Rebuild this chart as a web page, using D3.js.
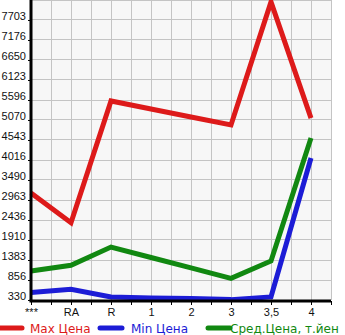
<!DOCTYPE html>
<html><head><meta charset="utf-8">
<script src="https://cdn.jsdelivr.net/npm/d3@7"></script>
<style>body{margin:0;background:#fff}svg{display:block;font-family:"DejaVu Sans",sans-serif}</style>
</head><body><svg id="c" width="345" height="335"></svg>
<script>
const categories = ["***","RA","R","1","2","3","3,5","4"];
const maxPrice = [3150, 2365, 5570, 5360, 5150, 4940, 8180, 5120];
const minPrice = [530, 612, 410, 385, 370, 340, 410, 4070];
const avgPrice = [1095, 1245, 1725, 1450, 1175, 900, 1357, 4596];
const yTicks = [330, 856, 1383, 1910, 2436, 2963, 3490, 4016, 4543, 5070, 5596, 6123, 6650, 7176, 7703];
const seriesNames = ["Max Цена", "Min Цена", "Сред.Цена, т.йен"];
const colors = ["#dd1a1a", "#1c1cd6", "#118811"];

const svg = d3.select("#c");
const L = 31, R = 331, T = 0, B = 300;
const step = yTicks[1] - yTicks[0];
const y = d3.scaleLinear().domain([yTicks[0], yTicks[yTicks.length-1] + step]).range([B, T]);
const x = d3.scaleLinear().domain([0, categories.length - 0.5]).range([L, R]);

svg.append("rect").attr("x", L).attr("y", T).attr("width", R-L).attr("height", B-T).attr("fill", "#f7f7f7");
const vgrid = d3.range(0, categories.length - 0.5 + 0.01, 0.5);
svg.append("g").selectAll("line").data(vgrid).join("line")
  .attr("x1", d => x(d)).attr("x2", d => x(d)).attr("y1", T).attr("y2", B)
  .attr("stroke", "#c4c4c4").attr("stroke-width", 1).attr("shape-rendering","crispEdges");
svg.append("g").selectAll("line").data(yTicks.concat([yTicks[yTicks.length-1]+step])).join("line")
  .attr("x1", L).attr("x2", R).attr("y1", d => y(d)).attr("y2", d => y(d))
  .attr("stroke", "#c4c4c4").attr("stroke-width", 1).attr("shape-rendering","crispEdges");

const series = [maxPrice, minPrice, avgPrice];
const line = d3.line().x((d,i) => x(i)).y(d => y(d));
series.forEach((s, k) => {
  svg.append("path").datum(s).attr("d", line).attr("fill", "none")
    .attr("stroke", colors[k]).attr("stroke-width", 5).attr("stroke-linejoin", "miter").attr("stroke-linecap","butt");
});

const yAxis = d3.axisLeft(y).tickValues(yTicks).tickSize(3).tickPadding(2).tickFormat(d3.format("d"));
const gy = svg.append("g").attr("transform", `translate(${L},0)`).call(yAxis);
gy.select(".domain").attr("stroke", "#000").attr("stroke-width", 3).attr("d", `M0,${T}V${B+1}`);
gy.selectAll("text").attr("font-size", 11).attr("fill", "#111").attr("dy", "-0.05em");

const xAxis = d3.axisBottom(x).tickValues(d3.range(0, categories.length - 0.5 + 0.01, 0.5)).tickSize(4).tickPadding(3)
  .tickFormat(d => Number.isInteger(d) ? categories[d] : "");
const gx = svg.append("g").attr("transform", `translate(0,${B+1})`).call(xAxis);
gx.select(".domain").attr("stroke", "#000").attr("stroke-width", 3).attr("d", `M${L-1.5},0H${R}`);
gx.selectAll("text").attr("font-size", 11).attr("fill", "#111");
gx.selectAll(".tick line").attr("stroke", "#000");

const legX = [[0, 30], [100, 131], [208, 230]];
seriesNames.forEach((n, k) => {
  svg.append("line").attr("x1", legX[k][0]).attr("x2", legX[k][0] + 22).attr("y1", 328).attr("y2", 328)
    .attr("stroke", colors[k]).attr("stroke-width", 5).attr("stroke-linecap", "round");
  svg.append("text").attr("x", legX[k][1]).attr("y", 332.5).attr("font-size", 12).attr("fill", colors[k]).text(n);
});
</script></body></html>
